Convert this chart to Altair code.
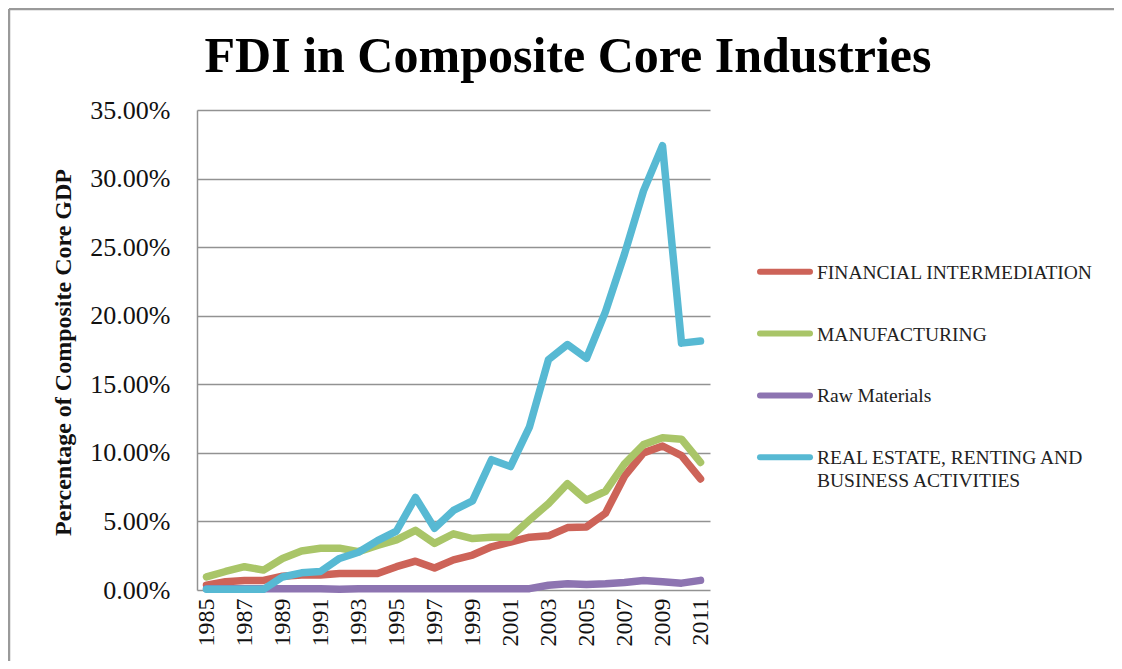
import altair as alt
import pandas as pd

years = list(range(1985, 2012))
series_names = [
    "FINANCIAL INTERMEDIATION",
    "MANUFACTURING",
    "Raw Materials",
    "REAL ESTATE, RENTING AND BUSINESS ACTIVITIES",
]
legend_labels = [
    "FINANCIAL INTERMEDIATION",
    "MANUFACTURING",
    "Raw Materials",
    "REAL ESTATE, RENTING AND\nBUSINESS ACTIVITIES",
]
colors = ["#CD6358", "#A9C568", "#8D74B1", "#57B9D3"]

financial = [0.35, 0.6, 0.7, 0.7, 1.0, 1.1, 1.1, 1.2, 1.2, 1.2, 1.7, 2.1, 1.6, 2.2,
             2.55, 3.15, 3.5, 3.85, 3.95, 4.55, 4.6, 5.6, 8.3, 10.0, 10.5, 9.8, 8.1]
manufacturing = [0.95, 1.35, 1.7, 1.45, 2.3, 2.85, 3.05, 3.05, 2.8, 3.25, 3.65, 4.35, 3.4,
                 4.1, 3.75, 3.85, 3.85, 5.1, 6.3, 7.75, 6.55, 7.2, 9.2, 10.6, 11.1, 11.0, 9.3]
raw_materials = [0.1, 0.1, 0.1, 0.1, 0.1, 0.1, 0.1, 0.05, 0.1, 0.1, 0.1, 0.1, 0.1, 0.1,
                 0.1, 0.1, 0.1, 0.1, 0.35, 0.45, 0.4, 0.45, 0.55, 0.7, 0.6, 0.5, 0.7]
real_estate = [0.05, 0.05, 0.05, 0.05, 0.95, 1.25, 1.35, 2.3, 2.75, 3.6, 4.3, 6.75, 4.5,
               5.8, 6.5, 9.5, 9.0, 11.9, 16.8, 17.9, 16.9, 20.3, 24.5, 29.1, 32.4, 18.0, 18.15]

y_ticks = [0, 5, 10, 15, 20, 25, 30, 35]
x_label_years = years[::2]

rows = []
for name, vals in zip(series_names, [financial, manufacturing, raw_materials, real_estate]):
    for yr, v in zip(years, vals):
        rows.append({"year": yr, "value": v, "series": name})
df = pd.DataFrame(rows)

leg_df = pd.DataFrame({
    "series": series_names,
    "label": legend_labels,
    "idx": list(range(len(series_names))),
})

FONT = "Liberation Serif"
GRID = "#929292"

color = alt.Color("series:N", scale=alt.Scale(domain=series_names, range=colors), legend=None)

lines = alt.Chart(df).mark_line(strokeWidth=7.5, strokeCap="round", strokeJoin="round").encode(
    x=alt.X("year:O", scale=alt.Scale(type="point", padding=0.5),
            axis=alt.Axis(values=x_label_years, labelAngle=270, labelFont=FONT,
                          labelFontSize=24, labelColor="#111", labelPadding=8,
                          domain=False, ticks=False, grid=False, title=None)),
    y=alt.Y("value:Q", scale=alt.Scale(domain=[0, 35], nice=False),
            axis=alt.Axis(values=y_ticks, grid=True, gridColor=GRID, gridWidth=1.5,
                          domain=True, domainColor=GRID, domainWidth=1.5, ticks=False,
                          labelExpr="format(datum.value, '.2f') + '%'",
                          labelFont=FONT, labelFontSize=26, labelColor="#111", labelPadding=27,
                          title="Percentage of Composite Core GDP", titleFont=FONT,
                          titleFontWeight="bold", titleFontSize=24, titleColor="#111",
                          titleAngle=270, titleX=-134, titleY=242, titleAlign="center",
                          titleBaseline="middle")),
    color=color,
    detail="series:N",
)

leg_y = alt.Y("idx:Q", scale=alt.Scale(domain=[0, 3], range=[161.7, 347.3]), axis=None)

leg_sym = alt.Chart(leg_df).mark_rule(strokeWidth=6, strokeCap="round").encode(
    x=alt.value(563), x2=alt.value(613), y=leg_y, color=color,
)
leg_txt = alt.Chart(leg_df).mark_text(
    align="left", baseline="alphabetic", dy=7, lineBreak="\n", lineHeight=23,
    font=FONT, fontSize=19.5, color="#222",
).encode(x=alt.value(620), y=leg_y, text="label:N")

title = alt.Chart(pd.DataFrame({"t": ["FDI in Composite Core Industries"]})).mark_text(
    align="center", baseline="alphabetic", font=FONT, fontWeight="bold", fontSize=50,
    color="#000",
).encode(x=alt.value(371), y=alt.value(-38), text="t:N")

frame = alt.Chart(pd.DataFrame({"a": [0]})).mark_rule(color="#9a9a9a", strokeWidth=2.5).encode(
    x=alt.value(-188), x2=alt.value(925), y=alt.value(-101)
)
frame_left = alt.Chart(pd.DataFrame({"a": [0]})).mark_rule(color="#9a9a9a", strokeWidth=2.5).encode(
    x=alt.value(-188), y=alt.value(-101), y2=alt.value(560)
)

chart = alt.layer(lines, leg_sym, leg_txt, title, frame, frame_left).resolve_scale(
    y="independent"
).properties(
    width=513, height=480,
    padding={"left": 189, "top": 102, "right": 404, "bottom": 71},
    autosize=alt.AutoSizeParams(type="none"),
    background="white",
).configure_view(stroke=None)

chart.save("out.html", embed_options={"renderer": "svg", "actions": False})
